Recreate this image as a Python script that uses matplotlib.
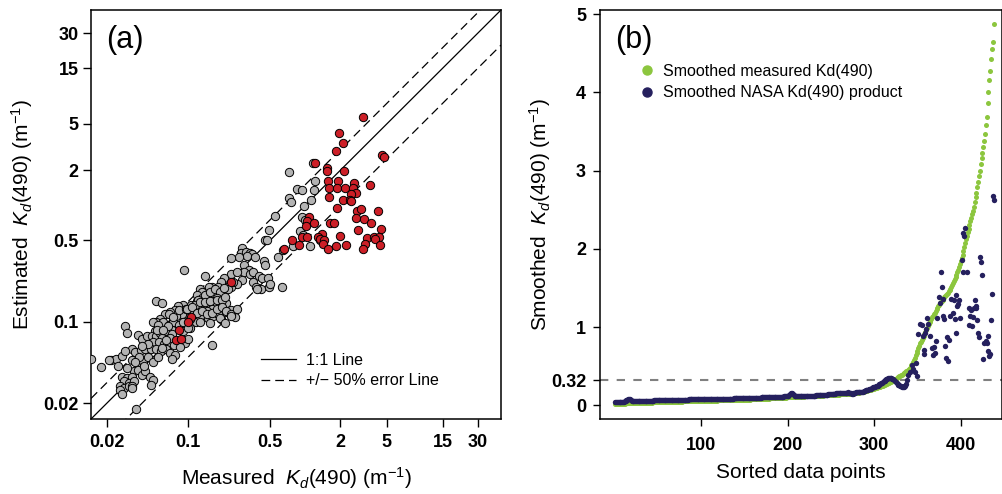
import numpy as np
import matplotlib
matplotlib.use("Agg")
import matplotlib.pyplot as plt
from matplotlib.lines import Line2D

plt.rcParams['font.family'] = ['Liberation Sans', 'DejaVu Sans']
plt.rcParams['mathtext.fontset'] = 'custom'
plt.rcParams['mathtext.rm'] = 'Liberation Sans'
plt.rcParams['mathtext.it'] = 'Liberation Sans:italic'
plt.rcParams['mathtext.bf'] = 'Liberation Sans:bold'

# ---------------- (a) measured vs estimated Kd(490) ----------------
gray_meas = [1.16, 0.72, 1.22, 0.85, 0.93, 1.18, 0.72, 0.76, 1.13, 0.97, 0.55, 0.93, 0.99, 0.90, 0.95, 0.78,
             1.10, 1.35, 0.59, 0.49, 0.45, 0.47, 0.64,
             0.29, 0.28, 0.31, 0.34, 0.35, 0.32, 0.37, 0.27, 0.23, 0.091, 0.44, 0.45, 0.23, 0.30, 0.33, 0.30,
             0.34, 0.36, 0.40, 0.43, 0.48, 0.20, 0.14, 0.29, 0.26, 0.36, 0.38, 0.42, 0.49, 0.39, 0.63, 0.23,
             0.22, 0.19, 0.18, 0.16, 0.15, 0.14, 0.17, 0.126, 0.13, 0.50, 0.25, 0.16, 0.24, 0.26,
             0.118, 0.13, 0.118, 0.14, 0.153, 0.17, 0.187, 0.20, 0.175, 0.16, 0.144, 0.134, 0.126, 0.193, 0.21,
             0.175, 0.16, 0.144, 0.206, 0.23, 0.114, 0.103, 0.097, 0.107, 0.118, 0.13, 0.148, 0.164, 0.18, 0.19,
             0.09, 0.082, 0.094, 0.088, 0.079, 0.077, 0.07, 0.063, 0.057, 0.053, 0.061, 0.068, 0.074, 0.084,
             0.09, 0.103, 0.072, 0.063, 0.052, 0.09,
             0.053, 0.06, 0.084, 0.095, 0.106, 0.12, 0.069, 0.074, 0.116, 0.125, 0.05, 0.055, 0.029, 0.030,
             0.067, 0.072, 0.099, 0.037, 0.04, 0.044, 0.049, 0.053, 0.057, 0.06, 0.05, 0.056, 0.062, 0.068,
             0.075, 0.07, 0.093, 0.1, 0.033, 0.035, 0.039, 0.043, 0.048, 0.053, 0.058, 0.064, 0.07, 0.077,
             0.072, 0.085, 0.022, 0.024, 0.027, 0.029, 0.018, 0.025, 0.033, 0.037, 0.041, 0.034, 0.037, 0.04,
             0.043, 0.042, 0.047, 0.05, 0.027, 0.03, 0.033, 0.028, 0.031, 0.034, 0.026, 0.028, 0.031, 0.033,
             0.026, 0.027, 0.033, 0.036, 0.048, 0.0147, 0.021, 0.054, 0.061,
             0.12, 0.114, 0.126, 0.14, 0.153, 0.175, 0.193, 0.206, 0.097, 0.107, 0.118, 0.13, 0.144, 0.16,
             0.175, 0.193, 0.21, 0.23, 0.26, 0.23, 0.103, 0.126, 0.153, 0.187, 0.206,
             0.045, 0.038, 0.030, 0.035, 0.050, 0.055, 0.060, 0.045, 0.040, 0.065]
gray_est = [2.3, 1.93, 1.6, 1.38, 1.36, 1.36, 1.15, 1.07, 1.12, 0.98, 0.81, 0.80, 0.75, 0.60, 0.56, 0.45,
            0.45, 0.50, 0.36, 0.61, 0.50, 0.50, 0.41,
            0.43, 0.39, 0.40, 0.39, 0.38, 0.37, 0.36, 0.36, 0.35, 0.28, 0.33, 0.31, 0.26, 0.31, 0.28, 0.27,
            0.26, 0.27, 0.25, 0.24, 0.24, 0.24, 0.25, 0.23, 0.21, 0.22, 0.20, 0.19, 0.20, 0.19, 0.20, 0.20,
            0.19, 0.22, 0.20, 0.20, 0.20, 0.17, 0.17, 0.19, 0.18, 0.21, 0.11, 0.064, 0.22, 0.27,
            0.17, 0.16, 0.15, 0.17, 0.18, 0.19, 0.18, 0.196, 0.16, 0.152, 0.145, 0.137, 0.13, 0.15, 0.145,
            0.139, 0.13, 0.125, 0.122, 0.127, 0.134, 0.122, 0.111, 0.10, 0.108, 0.112, 0.108, 0.112, 0.116, 0.105,
            0.14, 0.137, 0.127, 0.116, 0.112, 0.127, 0.122, 0.116, 0.105, 0.10, 0.10, 0.095, 0.10, 0.095,
            0.10, 0.089, 0.086, 0.083, 0.083, 0.083,
            0.15, 0.145, 0.126, 0.13, 0.14, 0.13, 0.118, 0.11, 0.10, 0.113, 0.10, 0.095, 0.092, 0.08,
            0.092, 0.078, 0.088, 0.077, 0.072, 0.076, 0.075, 0.076, 0.081, 0.073, 0.067, 0.067, 0.065, 0.066,
            0.063, 0.073, 0.066, 0.072, 0.058, 0.055, 0.057, 0.058, 0.059, 0.058, 0.056, 0.058, 0.054, 0.052,
            0.048, 0.061, 0.047, 0.048, 0.051, 0.056, 0.041, 0.042, 0.047, 0.044, 0.046, 0.038, 0.039, 0.035,
            0.038, 0.042, 0.034, 0.032, 0.034, 0.033, 0.034, 0.031, 0.03, 0.031, 0.028, 0.027, 0.028, 0.028,
            0.026, 0.024, 0.027, 0.018, 0.029, 0.048, 0.047, 0.086, 0.086,
            0.155, 0.14, 0.147, 0.147, 0.15, 0.155, 0.155, 0.165, 0.13, 0.134, 0.12, 0.124, 0.116, 0.12,
            0.13, 0.134, 0.124, 0.116, 0.13, 0.113, 0.105, 0.10, 0.098, 0.108, 0.098,
            0.05, 0.05, 0.04, 0.045, 0.045, 0.05, 0.06, 0.065, 0.062, 0.07]

red_meas = [3.1, 1.95, 2.1, 1.82, 4.55, 4.75, 1.22, 1.55, 1.53, 2.15, 3.55, 1.57, 1.91, 2.6, 1.6, 1.88,
            2.18, 2.55, 2.72, 2.45, 1.6, 2.1, 2.4, 2.47, 1.88, 2.78, 2.72, 2.98, 4.2, 1.08, 1.03, 1.2,
            1.02, 1.63, 1.75, 3.2, 3.65, 2.84, 4.45, 1.4, 1.28, 1.35, 0.94, 1.04, 1.99, 1.45, 0.77, 0.88,
            3.37, 3.85, 4.28, 3.95, 4.4, 3.25, 3.15, 2.25, 1.42, 1.58, 1.83, 0.66, 0.23, 0.105, 0.1,
            0.083, 0.078, 0.087]
red_est = [5.7, 4.2, 3.4, 2.9, 2.7, 2.62, 2.3, 2.1, 1.96, 1.97, 1.5, 1.6, 1.6, 1.55, 1.4, 1.4,
           1.4, 1.4, 1.28, 1.24, 1.17, 1.12, 1.12, 1.08, 0.95, 0.89, 0.78, 0.93, 0.9, 0.80, 0.73, 0.70,
           0.66, 0.70, 0.70, 0.76, 0.70, 0.62, 0.63, 0.57, 0.53, 0.51, 0.53, 0.53, 0.55, 0.50, 0.50, 0.46,
           0.52, 0.53, 0.53, 0.51, 0.46, 0.47, 0.42, 0.46, 0.47, 0.42, 0.45, 0.42, 0.22, 0.11, 0.1,
           0.086, 0.07, 0.072]

log_ticks = [0.02, 0.1, 0.5, 2, 5, 15, 30]
log_tick_labels = ['0.02', '0.1', '0.5', '2', '5', '15', '30']
kd_limits = (0.0147, 47.3)

# ---------------- (b) sorted, smoothed Kd(490) ----------------
meas_smooth = [
    0.017, 0.018, 0.018, 0.019, 0.019, 0.020, 0.020, 0.021, 0.021, 0.022,
    0.022, 0.022, 0.023, 0.023, 0.024, 0.024, 0.025, 0.025, 0.025, 0.026,
    0.026, 0.027, 0.027, 0.028, 0.028, 0.028, 0.029, 0.029, 0.030, 0.030,
    0.031, 0.031, 0.031, 0.032, 0.032, 0.033, 0.033, 0.034, 0.034, 0.034,
    0.035, 0.035, 0.035, 0.036, 0.036, 0.036, 0.037, 0.037, 0.037, 0.038,
    0.038, 0.039, 0.039, 0.039, 0.040, 0.040, 0.040, 0.041, 0.041, 0.041,
    0.042, 0.042, 0.042, 0.043, 0.043, 0.043, 0.044, 0.044, 0.044, 0.045,
    0.045, 0.045, 0.046, 0.046, 0.046, 0.047, 0.047, 0.047, 0.048, 0.048,
    0.048, 0.049, 0.049, 0.049, 0.050, 0.050, 0.050, 0.051, 0.051, 0.052,
    0.052, 0.052, 0.053, 0.053, 0.053, 0.054, 0.054, 0.054, 0.055, 0.055,
    0.055, 0.056, 0.056, 0.056, 0.057, 0.057, 0.057, 0.058, 0.058, 0.058,
    0.058, 0.059, 0.059, 0.059, 0.060, 0.060, 0.060, 0.060, 0.061, 0.061,
    0.061, 0.062, 0.062, 0.062, 0.062, 0.063, 0.063, 0.063, 0.064, 0.064,
    0.064, 0.064, 0.065, 0.065, 0.065, 0.066, 0.066, 0.066, 0.066, 0.067,
    0.067, 0.067, 0.067, 0.068, 0.068, 0.068, 0.068, 0.069, 0.069, 0.069,
    0.070, 0.070, 0.071, 0.072, 0.072, 0.073, 0.073, 0.074, 0.075, 0.075,
    0.076, 0.076, 0.077, 0.078, 0.078, 0.079, 0.079, 0.080, 0.081, 0.081,
    0.082, 0.082, 0.083, 0.084, 0.084, 0.085, 0.085, 0.086, 0.087, 0.087,
    0.088, 0.088, 0.089, 0.090, 0.090, 0.091, 0.091, 0.092, 0.093, 0.093,
    0.094, 0.094, 0.095, 0.096, 0.096, 0.097, 0.097, 0.098, 0.099, 0.100,
    0.100, 0.101, 0.101, 0.102, 0.103, 0.103, 0.104, 0.104, 0.105, 0.106,
    0.106, 0.107, 0.107, 0.108, 0.109, 0.109, 0.110, 0.110, 0.111, 0.112,
    0.112, 0.113, 0.113, 0.114, 0.115, 0.115, 0.116, 0.116, 0.117, 0.118,
    0.118, 0.119, 0.119, 0.120, 0.121, 0.121, 0.122, 0.122, 0.123, 0.124,
    0.124, 0.125, 0.125, 0.126, 0.127, 0.127, 0.128, 0.128, 0.129, 0.130,
    0.131, 0.131, 0.132, 0.133, 0.134, 0.134, 0.135, 0.136, 0.137, 0.138,
    0.138, 0.139, 0.140, 0.141, 0.141, 0.142, 0.143, 0.144, 0.145, 0.145,
    0.146, 0.147, 0.148, 0.148, 0.149, 0.150, 0.152, 0.154, 0.156, 0.158,
    0.160, 0.162, 0.164, 0.166, 0.168, 0.170, 0.172, 0.175, 0.178, 0.181,
    0.184, 0.187, 0.190, 0.193, 0.196, 0.199, 0.202, 0.205, 0.208, 0.211,
    0.215, 0.219, 0.223, 0.227, 0.231, 0.235, 0.239, 0.243, 0.247, 0.251,
    0.256, 0.261, 0.266, 0.271, 0.276, 0.282, 0.288, 0.294, 0.300, 0.307,
    0.314, 0.320, 0.327, 0.334, 0.341, 0.348, 0.355, 0.362, 0.369, 0.376,
    0.384, 0.392, 0.400, 0.408, 0.416, 0.425, 0.434, 0.444, 0.455, 0.467,
    0.481, 0.496, 0.513, 0.531, 0.550, 0.580, 0.610, 0.640, 0.670, 0.700,
    0.730, 0.760, 0.790, 0.815, 0.840, 0.865, 0.890, 0.915, 0.940, 0.965,
    0.990, 1.015, 1.040, 1.065, 1.085, 1.105, 1.125, 1.145, 1.165, 1.185,
    1.205, 1.225, 1.245, 1.265, 1.285, 1.305, 1.320, 1.335, 1.350, 1.365,
    1.380, 1.395, 1.410, 1.425, 1.440, 1.455, 1.470, 1.490, 1.510, 1.535,
    1.560, 1.585, 1.610, 1.640, 1.670, 1.700, 1.735, 1.770, 1.805, 1.840,
    1.880, 1.925, 1.975, 2.025, 2.075, 2.125, 2.170, 2.215, 2.260, 2.305,
    2.350, 2.395, 2.440, 2.490, 2.540, 2.600, 2.660, 2.720, 2.790, 2.850,
    2.930, 2.990, 3.080, 3.160, 3.230, 3.300, 3.380, 3.470, 3.580, 3.690,
    3.860, 4.010, 4.160, 4.280, 4.430, 4.550, 4.640, 4.870]

# NASA product, ranks 1..337 (follows the measured curve closely)
nasa_low = [
    0.045, 0.045, 0.044, 0.044, 0.043, 0.043, 0.044, 0.045, 0.045, 0.046,
    0.047, 0.050, 0.056, 0.063, 0.070, 0.075, 0.077, 0.075, 0.068, 0.060,
    0.055, 0.052, 0.050, 0.050, 0.051, 0.052, 0.053, 0.053, 0.054, 0.054,
    0.055, 0.055, 0.056, 0.056, 0.056, 0.057, 0.057, 0.058, 0.058, 0.058,
    0.059, 0.059, 0.060, 0.060, 0.060, 0.061, 0.061, 0.061, 0.062, 0.062,
    0.062, 0.062, 0.063, 0.063, 0.063, 0.063, 0.064, 0.064, 0.064, 0.064,
    0.064, 0.065, 0.065, 0.065, 0.066, 0.066, 0.066, 0.067, 0.067, 0.067,
    0.067, 0.068, 0.068, 0.068, 0.069, 0.069, 0.070, 0.070, 0.071, 0.071,
    0.072, 0.072, 0.073, 0.073, 0.073, 0.074, 0.074, 0.074, 0.075, 0.075,
    0.075, 0.075, 0.076, 0.076, 0.076, 0.076, 0.077, 0.077, 0.077, 0.077,
    0.077, 0.078, 0.078, 0.078, 0.078, 0.078, 0.079, 0.079, 0.079, 0.079,
    0.079, 0.080, 0.080, 0.080, 0.080, 0.081, 0.081, 0.081, 0.081, 0.082,
    0.082, 0.082, 0.082, 0.083, 0.083, 0.083, 0.083, 0.084, 0.084, 0.084,
    0.084, 0.085, 0.085, 0.085, 0.086, 0.086, 0.086, 0.087, 0.087, 0.087,
    0.088, 0.088, 0.088, 0.089, 0.089, 0.089, 0.090, 0.090, 0.090, 0.091,
    0.091, 0.091, 0.092, 0.092, 0.093, 0.093, 0.093, 0.094, 0.094, 0.095,
    0.095, 0.095, 0.096, 0.096, 0.097, 0.097, 0.098, 0.098, 0.098, 0.099,
    0.099, 0.100, 0.100, 0.101, 0.101, 0.102, 0.102, 0.103, 0.103, 0.104,
    0.104, 0.105, 0.105, 0.106, 0.106, 0.107, 0.107, 0.108, 0.108, 0.109,
    0.109, 0.110, 0.110, 0.111, 0.111, 0.112, 0.112, 0.113, 0.113, 0.114,
    0.116, 0.125, 0.140, 0.155, 0.160, 0.150, 0.135, 0.122, 0.115, 0.112,
    0.112, 0.113, 0.113, 0.114, 0.114, 0.115, 0.115, 0.116, 0.116, 0.117,
    0.117, 0.118, 0.118, 0.119, 0.120, 0.120, 0.121, 0.122, 0.122, 0.123,
    0.124, 0.124, 0.125, 0.126, 0.127, 0.127, 0.128, 0.129, 0.130, 0.131,
    0.132, 0.133, 0.134, 0.135, 0.136, 0.137, 0.138, 0.139, 0.140, 0.141,
    0.142, 0.144, 0.146, 0.148, 0.150, 0.152, 0.154, 0.155, 0.155, 0.154,
    0.153, 0.152, 0.151, 0.151, 0.152, 0.154, 0.157, 0.160, 0.162, 0.163,
    0.162, 0.158, 0.154, 0.150, 0.150, 0.152, 0.156, 0.160, 0.164, 0.168,
    0.170, 0.170, 0.168, 0.166, 0.166, 0.168, 0.172, 0.178, 0.184, 0.190,
    0.195, 0.198, 0.200, 0.202, 0.205, 0.210, 0.216, 0.222, 0.228, 0.234,
    0.238, 0.240, 0.244, 0.250, 0.258, 0.266, 0.274, 0.282, 0.290, 0.298,
    0.306, 0.314, 0.322, 0.330, 0.338, 0.345, 0.350, 0.352, 0.350, 0.346,
    0.340, 0.333, 0.325, 0.315, 0.303, 0.290, 0.277, 0.265, 0.255, 0.247,
    0.241, 0.237, 0.235, 0.236, 0.240, 0.250, 0.270]

# NASA product, scattered upper ranks
nasa_tail_rank = [338, 339, 341, 344, 345, 347, 348, 349, 351, 353, 355, 356, 357, 358, 359, 360,
                  361, 362, 364, 367, 368, 369, 370, 371, 373, 375, 376, 377, 378, 379, 380, 381,
                  382, 383, 384, 385, 386, 388, 389, 391, 392, 393, 394, 395, 396, 397, 398, 399,
                  401, 402, 403, 404, 405, 407, 409, 410, 411, 412, 413, 414, 415, 416, 417, 418,
                  419, 420, 421, 422, 423, 425, 426, 427, 429, 430, 431, 432, 433, 434, 435, 436,
                  437, 438]
nasa_tail_kd = [0.32, 0.39, 0.43, 0.51, 0.465, 0.42, 0.54, 0.375, 0.91, 1.04, 1.02, 0.88, 0.66, 0.71, 0.92, 0.97,
                1.12, 1.04, 0.89, 0.73, 0.64, 0.75, 0.67, 0.82, 1.12, 1.39, 1.31, 1.71, 1.51, 1.36, 1.14, 1.10,
                0.76, 0.60, 0.87, 0.57, 0.84, 1.14, 1.36, 1.18, 1.35, 1.10, 0.92, 1.41, 1.27, 1.30, 1.35, 1.12,
                1.86, 2.20, 1.70, 2.17, 2.27, 1.71, 1.24, 1.03, 1.14, 1.22, 1.01, 1.13, 1.24, 1.35, 1.27, 1.24,
                1.09, 0.93, 0.87, 1.90, 1.83, 1.67, 0.59, 0.79, 0.82, 0.79, 0.89, 0.69, 0.63, 0.66, 1.09, 1.42,
                2.68, 2.62]
threshold = 0.32

# ---------------- figure ----------------
fig = plt.figure(figsize=(10.03, 4.94), dpi=100)
ax = fig.add_axes([91 / 1003, 75 / 494, 410 / 1003, 409 / 494])
ax2 = fig.add_axes([600 / 1003, 75 / 494, 402 / 1003, 409 / 494])

gray_c = '#b3b3b3'
red_c = '#cc1f27'
green_c = '#8cc63e'
navy_c = '#25205e'

ax.set_xscale('log')
ax.set_yscale('log')
ax.set_xlim(*kd_limits)
ax.set_ylim(*kd_limits)
line_x = np.array(kd_limits)
ax.plot(line_x, line_x, color='black', lw=0.9, zorder=2)
ax.plot(line_x, line_x * 1.5, color='black', lw=0.9, ls=(0, (7, 4)), zorder=2)
ax.plot(line_x, line_x * 0.5, color='black', lw=0.9, ls=(0, (7, 4)), zorder=2)
ax.scatter(gray_meas, gray_est, s=36, facecolor=gray_c, edgecolor='black', linewidth=0.7, zorder=3)
ax.scatter(red_meas, red_est, s=36, facecolor=red_c, edgecolor='black', linewidth=0.7, zorder=4)

ax.minorticks_off()
ax.set_xticks(log_ticks)
ax.set_xticklabels(log_tick_labels, fontweight='bold', fontsize=13)
ax.set_yticks(log_ticks)
ax.set_yticklabels(log_tick_labels, fontweight='bold', fontsize=13)
ax.tick_params(axis='x', which='major', direction='out', length=6, width=1, pad=5)
ax.tick_params(axis='y', which='major', direction='out', length=6, width=1, pad=3)
for sp in ax.spines.values():
    sp.set_linewidth(1.1)

ax.set_xlabel(r'Measured  $K_d$(490) (m$^{\mathregular{-1}}$)', fontsize=15)
ax.set_ylabel(r'Estimated  $K_d$(490) (m$^{\mathregular{-1}}$)', fontsize=15)
ax.xaxis.set_label_coords(0.5, -0.144)
ax.xaxis.label.set_va('center')
ax.yaxis.set_label_coords(-0.168, 0.5)
ax.yaxis.label.set_va('center')
ax.text(0.037, 0.927, '(a)', transform=ax.transAxes, fontsize=22, ha='left', va='center')

ax.legend([Line2D([], [], color='black', lw=0.9),
           Line2D([], [], color='black', lw=0.9, ls=(0, (7, 4)))],
          ['1:1 Line', '+/\u2212 50% error Line'],
          loc='lower left', bbox_to_anchor=(0.415, 0.075), frameon=False, fontsize=11.5,
          handlelength=2.2, handletextpad=0.6, borderpad=0, borderaxespad=0, labelspacing=0.35)

# (b)
ax2.axhline(threshold, color='#808080', lw=1.5, ls=(0, (4, 4)), zorder=1)
rank = np.arange(1, len(meas_smooth) + 1)
ax2.scatter(rank, meas_smooth, s=13, color=green_c, linewidths=0, zorder=2)
nasa_rank = np.concatenate([np.arange(1, len(nasa_low) + 1), nasa_tail_rank])
nasa_kd = np.concatenate([nasa_low, nasa_tail_kd])
ax2.scatter(nasa_rank, nasa_kd, s=15, color=navy_c, linewidths=0, zorder=3)

ax2.set_xlim(-16.6, 447.6)
ax2.set_ylim(-0.176, 5.055)
ax2.set_xticks([100, 200, 300, 400])
ax2.set_xticklabels(['100', '200', '300', '400'], fontweight='bold', fontsize=13)
ax2.set_yticks([0, threshold, 1, 2, 3, 4, 5])
ax2.set_yticklabels(['0', '0.32', '1', '2', '3', '4', '5'], fontweight='bold', fontsize=13)
ax2.tick_params(axis='x', direction='out', length=5, width=1, pad=8)
ax2.tick_params(axis='y', direction='out', length=5, width=1, pad=5)
for sp in ax2.spines.values():
    sp.set_linewidth(1.1)
ax2.set_xlabel('Sorted data points', fontsize=15)
ax2.set_ylabel(r'Smoothed  $K_d$(490) (m$^{\mathregular{-1}}$)', fontsize=15)
ax2.xaxis.set_label_coords(0.5, -0.132)
ax2.xaxis.label.set_va('center')
ax2.yaxis.set_label_coords(-0.149, 0.5)
ax2.yaxis.label.set_va('center')
ax2.text(0.037, 0.927, '(b)', transform=ax2.transAxes, fontsize=22, ha='left', va='center')

ax2.legend([Line2D([], [], ls='none', marker='o', ms=6.5, mfc=green_c, mec=green_c),
            Line2D([], [], ls='none', marker='o', ms=6.5, mfc=navy_c, mec=navy_c)],
           ['Smoothed measured Kd(490)', 'Smoothed NASA Kd(490) product'],
           loc='upper left', bbox_to_anchor=(0.096, 0.868), frameon=False, fontsize=11.5,
           handlelength=1.0, handletextpad=0.5, borderpad=0, borderaxespad=0, labelspacing=0.4)

fig.savefig('out.png', dpi=100)
